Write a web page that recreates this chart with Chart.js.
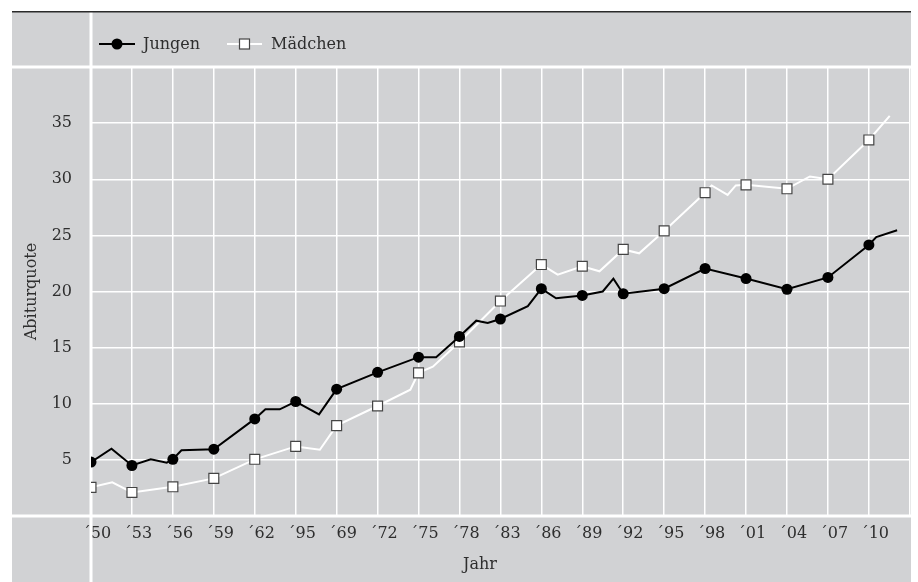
<!DOCTYPE html>
<html>
<head>
<meta charset="utf-8">
<script src="https://cdn.jsdelivr.net/npm/chart.js@4/dist/chart.umd.min.js"></script>
<style>
  html, body { margin: 0; padding: 0; background: #fff; }
  #wrap { width: 918px; height: 582px; position: relative; }
</style>
</head>
<body>
<div id="wrap"><canvas id="abitur"></canvas></div>
<script>
// tick labels as printed in the source (incl. the '95 after '62)
const tickLabels = ['´50','´53','´56','´59','´62','´95','´69','´72','´75','´78',
                    '´83','´86','´89','´92','´95','´98','´01','´04','´07','´10'];

// positions are in tick steps (0 = ´50, 1 = ´53, ...); markers sit on whole steps
const jungenPos = [0, 0.5, 1, 1.46, 1.85, 2, 2.21, 3, 4, 4.26, 4.61, 5, 5.57, 6, 7,
                   8, 8.43, 9, 9.41, 9.69, 10, 10.67, 11, 11.36, 12,
                   12.5, 12.76, 13, 14, 15, 16, 17, 18, 19, 19.18, 19.69];
const jungenVal = [4.8, 6.0, 4.5, 5.05, 4.75, 5.05, 5.85, 5.95, 8.65, 9.5, 9.5, 10.2, 9.05, 11.3, 12.8,
                   14.15, 14.15, 16.0, 17.4, 17.2, 17.55, 18.7, 20.25, 19.4, 19.65,
                   20.0, 21.15, 19.8, 20.25, 22.05, 21.15, 20.2, 21.25, 24.15, 24.85, 25.45];

const maedchenPos = [0, 0.52, 1, 2, 3, 4, 5, 5.59, 6, 7,
                     7.8, 8, 8.35, 9, 10, 11, 11.4, 12, 12.42, 13,
                     13.39, 14, 15, 15.16, 15.55, 15.75, 16, 17, 17.56, 18,
                     19, 19.51];
const maedchenVal = [2.55, 3.0, 2.1, 2.6, 3.35, 5.05, 6.2, 5.9, 8.05, 9.8,
                     11.25, 12.75, 13.3, 15.5, 19.15, 22.4, 21.5, 22.25, 21.8, 23.75,
                     23.4, 25.4, 28.8, 29.45, 28.6, 29.45, 29.5, 29.15, 30.25, 30.0,
                     33.5, 35.65];

const bg = '#d1d2d4';
const textColor = '#2e2e2e';
const fontFamily = "'DejaVu Serif', serif";

const toPoints = (xs, ys) => xs.map((x, i) => ({ x: x, y: ys[i] }));
const onTick = (r) => ctx => Number.isInteger(ctx.raw.x) ? r : 0;

// background panel, white frame lines, legend and x title
const frame = {
  id: 'frame',
  beforeDraw(chart) {
    const c = chart.ctx;
    c.save();
    c.fillStyle = '#fff';
    c.fillRect(0, 0, chart.width, chart.height);
    c.fillStyle = bg;
    c.fillRect(12, 12, 899, 570);
    c.restore();
  },
  beforeDatasetsDraw(chart) {
    const { ctx, scales: { x, y } } = chart;
    const x0 = x.getPixelForValue(0);
    const y0 = y.getPixelForValue(0);
    const yTop = y.getPixelForValue(40);
    ctx.save();
    ctx.strokeStyle = '#fff';
    ctx.lineWidth = 3;
    ctx.beginPath();
    ctx.moveTo(12, yTop); ctx.lineTo(911, yTop);
    ctx.moveTo(12, y0); ctx.lineTo(911, y0);
    ctx.moveTo(x0, 12); ctx.lineTo(x0, 582);
    ctx.stroke();
    ctx.strokeStyle = '#2a2a2a';
    ctx.lineWidth = 1.5;
    ctx.beginPath();
    ctx.moveTo(12, 11.75); ctx.lineTo(911, 11.75);
    ctx.stroke();
    ctx.restore();
  },
  afterDraw(chart) {
    const { ctx, scales: { x } } = chart;
    ctx.save();
    ctx.font = '16px ' + fontFamily;
    ctx.fillStyle = textColor;
    ctx.textBaseline = 'middle';
    const ly = 44;
    // Jungen
    ctx.strokeStyle = '#000';
    ctx.lineWidth = 2;
    ctx.beginPath(); ctx.moveTo(99, ly); ctx.lineTo(135, ly); ctx.stroke();
    ctx.fillStyle = '#000';
    ctx.beginPath(); ctx.arc(117, ly, 5.5, 0, Math.PI * 2); ctx.fill();
    ctx.fillStyle = textColor;
    ctx.fillText(chart.data.datasets[0].label, 143, ly + 1);
    // Mädchen
    ctx.strokeStyle = '#fff';
    ctx.beginPath(); ctx.moveTo(227, ly); ctx.lineTo(262, ly); ctx.stroke();
    ctx.fillStyle = '#fff';
    ctx.strokeStyle = '#444';
    ctx.lineWidth = 1.2;
    ctx.fillRect(239.5, ly - 5, 10, 10);
    ctx.strokeRect(239.5, ly - 5, 10, 10);
    ctx.fillStyle = textColor;
    ctx.fillText(chart.data.datasets[1].label, 271, ly + 1);
    // x axis title
    ctx.textAlign = 'center';
    const cx = (x.getPixelForValue(0) + x.getPixelForValue(19)) / 2;
    ctx.fillText('Jahr', cx, 565);
    ctx.restore();
  }
};

new Chart(document.getElementById('abitur'), {
  type: 'line',
  data: {
    datasets: [
      {
        label: 'Jungen',
        data: toPoints(jungenPos, jungenVal),
        borderColor: '#000',
        borderWidth: 2,
        pointBackgroundColor: '#000',
        pointBorderColor: '#000',
        pointBorderWidth: 0,
        pointRadius: onTick(5.5),
        pointStyle: 'circle',
        tension: 0
      },
      {
        label: 'Mädchen',
        data: toPoints(maedchenPos, maedchenVal),
        borderColor: '#fff',
        borderWidth: 2,
        pointBackgroundColor: '#fff',
        pointBorderColor: '#444',
        pointBorderWidth: 1.2,
        pointRadius: onTick(7),
        pointStyle: 'rect',
        tension: 0
      }
    ]
  },
  options: {
    responsive: true,
    maintainAspectRatio: false,
    animation: false,
    events: [],
    layout: { padding: { top: 67, right: 7, left: 0, bottom: 0 } },
    plugins: {
      legend: { display: false },
      tooltip: { enabled: false }
    },
    scales: {
      x: {
        type: 'linear',
        min: 0,
        max: 20,
        afterFit: s => { s.height = 66; },
        border: { display: false },
        grid: { color: '#fff', lineWidth: 1.5, drawTicks: false },
        ticks: {
          stepSize: 1,
          autoSkip: false,
          maxRotation: 0,
          padding: 8,
          labelOffset: 6,
          color: textColor,
          font: { family: fontFamily, size: 16 },
          callback: v => tickLabels[v] ?? ''
        }
      },
      y: {
        min: 0,
        max: 40,
        afterFit: s => { s.width = 91; },
        border: { display: false },
        grid: { color: '#fff', lineWidth: 1.5, drawTicks: false },
        ticks: {
          stepSize: 5,
          padding: 19,
          color: textColor,
          font: { family: fontFamily, size: 16 },
          callback: v => (v === 0 || v === 40) ? '' : v
        },
        title: {
          display: true,
          text: 'Abiturquote',
          color: textColor,
          font: { family: fontFamily, size: 16 },
          padding: { top: 22, bottom: 0 }
        }
      }
    }
  },
  plugins: [frame]
});
</script>
</body>
</html>
